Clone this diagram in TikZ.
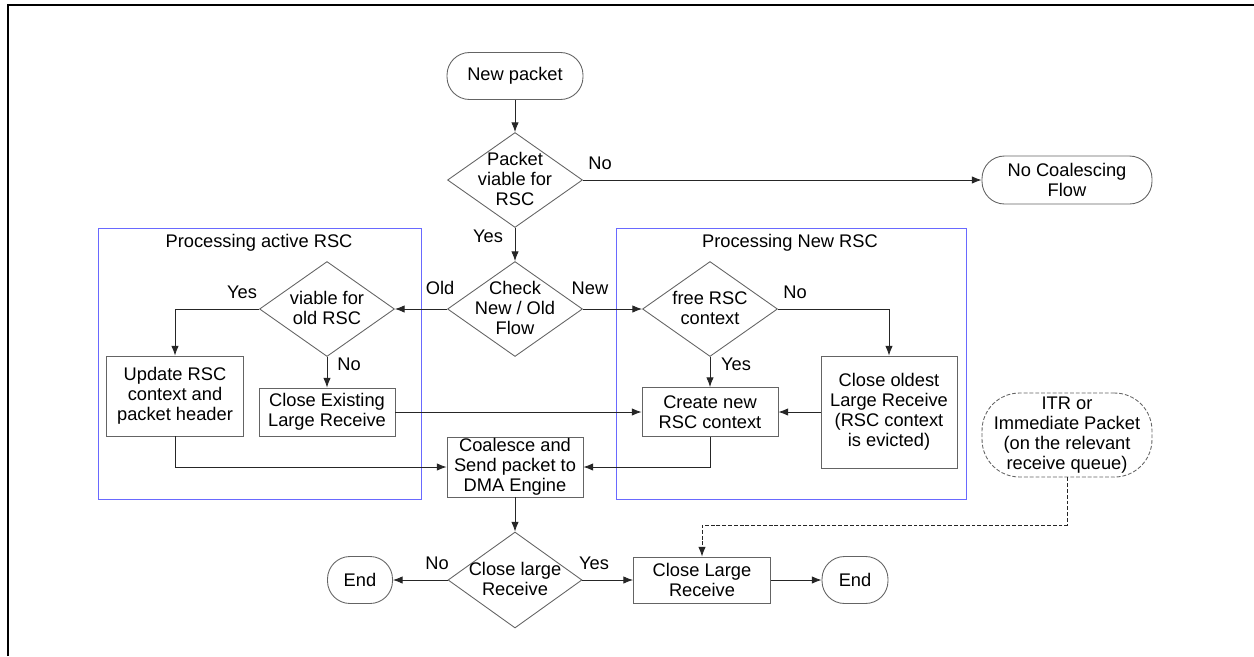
\documentclass[tikz,border=0pt]{standalone}
\usepackage{fontspec}
\setmainfont{Liberation Sans}
\usetikzlibrary{shapes.geometric,arrows.meta}

\definecolor{shapegray}{RGB}{100,100,100}
\definecolor{groupblue}{RGB}{105,105,255}

% texto de rombo sin tamano propio
\newcommand{\dtext}[1]{\smash{\makebox[0pt]{\raisebox{-3.6pt}{\begin{tabular}{@{}c@{}}#1\end{tabular}}}}}

\tikzset{
  term/.style={draw=shapegray, rounded corners=0.45cm, align=center,
    minimum width=2.72cm, minimum height=0.94cm, inner sep=0pt},
  proc/.style={draw=shapegray, align=center, minimum width=2.72cm, inner sep=0pt},
  decision/.style={diamond, draw=shapegray, inner sep=0pt,
    minimum width=2.7cm, minimum height=1.9cm},
  group/.style={draw=groupblue},
  flow/.style={->, black!85},
  lbl/.style={inner sep=1pt},
}

\begin{document}
\begin{tikzpicture}[x=0.02cm, y=-0.02cm, line width=0.5pt,
    >={Latex[length=5.5pt,width=4.2pt]}, font=\fontsize{10.4}{11.4}\selectfont]
    \useasboundingbox (0,0) rectangle (1254,656);

    % marco
    \draw[line width=1.1pt] (8,656) -- (8,5) -- (1254,5);

    % grupos
    \draw[group] (98,228) rectangle (421,499);
    \node (activetitle) at (259,243) {Processing active RSC};
    \draw[group] (616,228) rectangle (966,499);
    \node (newtitle) at (790,243) {Processing New RSC};

    % entrada
    \node[term] (newp) at (515,76) {New packet};
    \node[decision] (viable) at (515,180) {\dtext{Packet\\viable for\\RSC}};
    \node[term, minimum width=3.4cm, minimum height=0.96cm] (nocoal) at (1067,180) {No Coalescing\\Flow};
    \node[decision] (check) at (515,309) {\dtext{Check\\New / Old\\Flow}};

    % flujo activo
    \node[decision] (oldv) at (327,309) {\dtext{viable for\\old RSC}};
    \node[proc, minimum width=2.74cm, minimum height=1.6cm] (update) at (175,396) {Update RSC\\context and\\packet header};
    \node[proc, minimum height=0.96cm] (closeex) at (327,412) {Close Existing\\Large Receive};

    % flujo nuevo
    \node[decision] (freev) at (710,309) {\dtext{free RSC\\context}};
    \node[proc, minimum height=0.98cm] (create) at (710,412) {Create new\\RSC context};
    \node[proc, minimum height=2.24cm] (oldest) at (889,412) {Close oldest\\Large Receive\\(RSC context\\is evicted)};

    % salida
    \node[proc, minimum height=1.2cm] (coal) at (515,467) {Coalesce and\\Send packet to\\DMA Engine};
    \node[decision, minimum width=2.68cm, minimum height=1.92cm] (closev) at (515,580) {\dtext{Close large\\Receive}};
    \node[term, minimum width=1.3cm] (endl) at (360,580) {End};
    \node[proc, minimum width=2.74cm, minimum height=0.92cm] (closelr) at (702,580) {Close Large\\Receive};
    \node[term, minimum width=1.32cm] (endr) at (855,580) {End};
    \node[term, dashed, dash pattern=on 2.2pt off 1.1pt, rounded corners=0.75cm,
      minimum width=3.4cm, minimum height=1.68cm] (itr) at (1067,435) {ITR or\\Immediate Packet\\(on the relevant\\receive queue)};
    \coordinate (itrturn) at (1067,525);

    % etiquetas
    \node[lbl] (lno1) at (600,163) {No};
    \node[lbl] (lyes1) at (488,236) {Yes};
    \node[lbl] (lold) at (440,288) {Old};
    \node[lbl] (lnew) at (590,288) {New};
    \node[lbl] (lyes2) at (242,292) {Yes};
    \node[lbl] (lno2) at (349,364) {No};
    \node[lbl] (lno3) at (795,292) {No};
    \node[lbl] (lyes3) at (736,364) {Yes};
    \node[lbl] (lno4) at (437,563) {No};
    \node[lbl] (lyes4) at (594,563) {Yes};

    % conectores
    \draw[flow] (newp) -- (viable);
    \draw[flow] (viable.east) -- (nocoal.west);
    \draw[flow] (viable) -- (check);
    \draw[flow] (check.west) -- (oldv.east);
    \draw[flow] (check.east) -- (freev.west);
    \draw[flow] (oldv.west) -| (update.north);
    \draw[flow] (oldv) -- (closeex);
    \draw[flow] (closeex) -- (create);
    \draw[flow] (update.south) |- (coal.west);
    \draw[flow] (freev.east) -| (oldest.north);
    \draw[flow] (freev) -- (create);
    \draw[flow] (oldest) -- (create);
    \draw[flow] (create.south) |- (coal.east);
    \draw[flow] (coal) -- (closev);
    \draw[flow] (closev.west) -- (endl);
    \draw[flow] (closev.east) -- (closelr);
    \draw[flow] (closelr) -- (endr);
    \draw[flow, dash pattern=on 2.2pt off 1.1pt] (itr.south) -- (itrturn) -| (closelr.north);
\end{tikzpicture}
\end{document}
